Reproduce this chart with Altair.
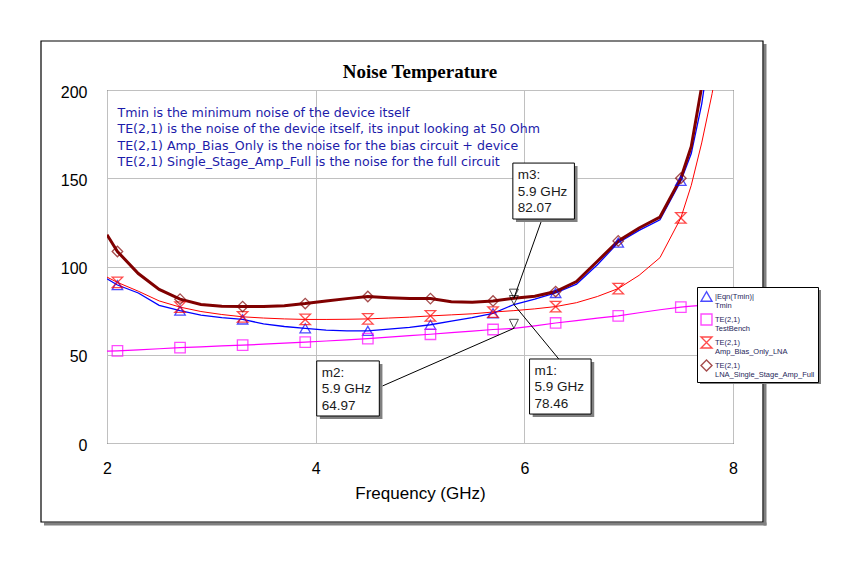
import pandas as pd
import altair as alt

# simulation frequency grid (GHz)
freq = [2.0, 2.1, 2.3, 2.5, 2.7, 2.9, 3.1, 3.3, 3.5, 3.7, 3.9, 4.1, 4.3, 4.5,
        4.7, 4.9, 5.1, 5.3, 5.5, 5.7, 5.9, 6.1, 6.3, 6.5, 6.7, 6.9, 7.1, 7.3,
        7.5, 7.6, 7.7, 7.8, 7.9, 8.0]

# noise temperature traces (K), None = off the top of the plot
tmin = [93, 89.5, 85, 78, 75, 72.5, 71, 70, 67.5, 66, 65, 64, 63.5, 63.5,
        64.5, 65.5, 67, 69, 71, 73.5, 78.46, 81.5, 85, 90, 101, 113.5, 120.5,
        126.5, 148.5, 164, 192, 232, None, None]
te_testbench = [52, 52.2, 52.8, 53.4, 54, 54.5, 55, 55.4, 56, 56.6, 57.2, 57.8,
                58.4, 59.1, 60, 60.8, 61.6, 62.5, 63.4, 64.3, 64.97, 66.4, 68,
                69.3, 70.7, 72, 73.8, 75.5, 77, 77.5, 78, 78.6, 79.1, 79.6]
te_bias_only = [94, 91, 86, 80.5, 77, 74.5, 72.8, 71.5, 70.8, 70.3, 70, 70,
                70.1, 70.3, 70.8, 71.3, 72, 72.6, 73.2, 74.2, 75, 76, 77.3,
                79.5, 83, 87.5, 95, 105, 127.5, 146, 170, 198, 232, None]
te_full = [118, 108.5, 96, 87, 81.5, 78.5, 77.5, 77.3, 77.3, 77.8, 79, 80.5,
           81.8, 83, 82.3, 81.8, 81.8, 80, 79.8, 80.5, 82.07, 83.2, 85.8, 91.5,
           103, 114.5, 121.8, 128, 150, 168, 202, None, None, None]

series_names = ["|Eqn(Tmin)|\nTmin", "TE(2,1)\nTestBench",
                "TE(2,1)\nAmp_Bias_Only_LNA", "TE(2,1)\nLNA_Single_Stage_Amp_Full"]
series_colors = ["#0000ff", "#ff00ff", "#ff0000", "#800000"]
series_shapes = ["triangle-up", "square", "M-1,-1H1L-1,1H1Z", "diamond"]
series_widths = [1.3, 1.2, 1.0, 3.0]

# frequencies where the trace symbols are drawn
marker_freqs = [2.1, 2.7, 3.3, 3.9, 4.5, 5.1, 5.7, 6.3, 6.9, 7.5]

notes = [
    "Tmin is the minimum noise of the device itself",
    "TE(2,1) is the noise of the device itself, its input looking at 50 Ohm",
    "TE(2,1) Amp_Bias_Only is the noise for the bias circuit + device",
    "TE(2,1) Single_Stage_Amp_Full is the noise for the full circuit",
]

# marker readouts
readout_names = ["m1", "m2", "m3"]
readout_freq = [5.9, 5.9, 5.9]
readout_vals = [78.46, 64.97, 82.07]
# readout boxes placed in data units, plus where the leader leaves the box
box_left = [6.05, 4.01, 5.89]
box_right = [6.64, 4.61, 6.48]
box_top = [47.6, 46.5, 158.6]
box_bottom = [16.4, 15.3, 126.9]
lead_x = [6.33, 4.64, 6.17]
lead_y = [47.6, 32.3, 126.9]

rows = []
for name, vals in zip(series_names, [tmin, te_testbench, te_bias_only, te_full]):
    for f, v in zip(freq, vals):
        if v is not None:
            rows.append({"freq": f, "temp": v, "series": name,
                         "marker": round(f, 1) in marker_freqs})
traces = pd.DataFrame(rows)

readouts = pd.DataFrame({
    "name": readout_names, "freq": readout_freq, "val": readout_vals,
    "bl": box_left, "br": box_right, "bt": box_top, "bb": box_bottom,
    "lx": lead_x, "ly": lead_y,
})
readouts["label"] = [f"{n}:\n{f} GHz\n{v:.2f}" for n, f, v in
                     zip(readout_names, readout_freq, readout_vals)]

xs = alt.Scale(domain=[2, 8], nice=False)
ys = alt.Scale(domain=[0, 200], nice=False)

legend = alt.Legend(
    title=None, orient="none", legendX=590, legendY=197,
    labelExpr="split(datum.label, '\\n')", labelFont="Liberation Sans",
    labelFontSize=7.5, labelColor="#26265a", labelLimit=300, labelOffset=2,
    strokeColor="black", fillColor="white", padding=3, rowPadding=1,
    symbolSize=120, symbolStrokeWidth=1.4,
)

# one line layer per trace so the full-circuit trace sits on top
lines = []
for name, col, w in zip(series_names, series_colors, series_widths):
    lines.append(
        alt.Chart(traces).mark_line(clip=True, color=col, strokeWidth=w).encode(
            x=alt.X("freq:Q", scale=xs, title="Frequency (GHz)",
                    axis=alt.Axis(values=[2, 4, 6, 8], format="d", labelPadding=17,
                                  titlePadding=9, labelFlush=False)),
            y=alt.Y("temp:Q", scale=ys, title=None,
                    axis=alt.Axis(values=[0, 50, 100, 150, 200], labelPadding=20,
                                  labelOffset=2, labelFlush=False)),
            order=alt.Order("freq:Q"),
        ).transform_filter(alt.datum.series == name)
    )

points = alt.Chart(traces).mark_point(filled=False, size=110, strokeWidth=1.3, clip=True).encode(
    x=alt.X("freq:Q", scale=xs),
    y=alt.Y("temp:Q", scale=ys),
    color=alt.Color("series:N", scale=alt.Scale(domain=series_names, range=series_colors), legend=legend),
    shape=alt.Shape("series:N", scale=alt.Scale(domain=series_names, range=series_shapes), legend=legend),
).transform_filter("datum.marker")

note_text = alt.Chart(pd.DataFrame({"t": ["\n".join(notes)]})).mark_text(
    align="left", baseline="top", lineBreak="\n", lineHeight=16.5,
    fontSize=12.6, font="DejaVu Sans", color="#1c1caa",
).encode(x=alt.datum(2.1, scale=xs), y=alt.datum(190.6, scale=ys), text="t:N")

box_shadow = alt.Chart(readouts).mark_rect(color="#808080").transform_calculate(
    sl="datum.bl + 0.03", sr="datum.br + 0.03", st="datum.bt - 1.7", sb="datum.bb - 1.7"
).encode(x=alt.X("sl:Q", scale=xs), x2="sr:Q", y=alt.Y("st:Q", scale=ys), y2="sb:Q")

boxes = alt.Chart(readouts).mark_rect(fill="white", stroke="black", strokeWidth=1).encode(
    x=alt.X("bl:Q", scale=xs), x2="br:Q", y=alt.Y("bt:Q", scale=ys), y2="bb:Q")

leaders = alt.Chart(readouts).mark_rule(color="black", strokeWidth=1).encode(
    x=alt.X("lx:Q", scale=xs), y=alt.Y("ly:Q", scale=ys), x2="freq:Q", y2="val:Q")

readout_marks = alt.Chart(readouts).mark_point(
    shape="M-1,-2H1L0,0Z", size=81, filled=False, color="black", strokeWidth=1
).encode(x=alt.X("freq:Q", scale=xs), y=alt.Y("val:Q", scale=ys))

readout_text = alt.Chart(readouts).mark_text(
    align="left", baseline="top", lineBreak="\n", lineHeight=16.5, dx=5, dy=5,
    fontSize=13.5, font="Liberation Sans", color="#1a1a1a",
).encode(x=alt.X("bl:Q", scale=xs), y=alt.Y("bt:Q", scale=ys), text="label:N")

one = pd.DataFrame({"k": [0]})
title = alt.Chart(one).mark_text(
    text="Noise Temperature", font="Liberation Serif", fontSize=19,
    fontWeight="bold", color="black", baseline="middle", align="center",
).encode(x=alt.value(313), y=alt.value(-18))
# outer frame of the plot window with its drop shadow
frame = alt.Chart(one).mark_rect(fillOpacity=0, stroke="black", strokeWidth=1.2).encode(
    x=alt.value(-66), x2=alt.value(656), y=alt.value(-49), y2=alt.value(432))
frame_shadow_r = alt.Chart(one).mark_rule(color="#808080", strokeWidth=3).encode(
    x=alt.value(658), y=alt.value(-46), y2=alt.value(435.5))
frame_shadow_b = alt.Chart(one).mark_rule(color="#808080", strokeWidth=3).encode(
    x=alt.value(-63), x2=alt.value(659.5), y=alt.value(434))
legend_shadow = alt.Chart(one).mark_rect(color="#808080").encode(
    x=alt.value(593), x2=alt.value(714), y=alt.value(200), y2=alt.value(294))

chart = alt.layer(
    frame_shadow_r, frame_shadow_b, frame, title,
    *lines, points, note_text,
    leaders, box_shadow, boxes, readout_marks, readout_text, legend_shadow,
).properties(
    width=626, height=353,
    padding={"left": 99, "top": 82, "right": 115, "bottom": 95},
    autosize=alt.AutoSizeParams(type="none"),
).configure_view(
    stroke="black", strokeWidth=1
).configure_axis(
    grid=True, gridColor="#c0c0c0", gridWidth=1, domain=False, ticks=False,
    labelFont="Liberation Sans", labelFontSize=16, labelColor="black",
    titleFont="Liberation Sans", titleFontSize=17, titleColor="black", titleFontWeight="normal",
)

chart.save("out.html", embed_options={"renderer": "svg", "actions": False})
